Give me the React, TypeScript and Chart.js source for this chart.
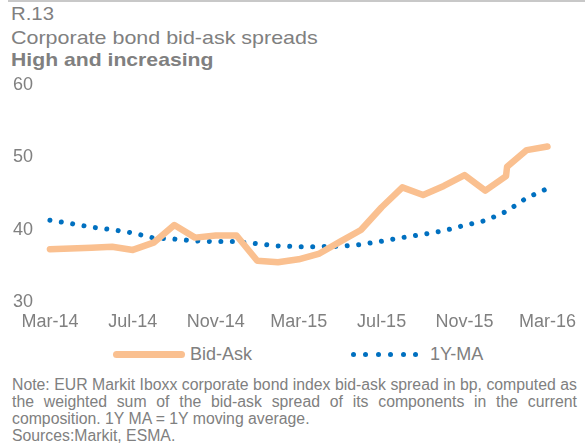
import React, { useEffect, useRef } from "react";
import { Chart, registerables } from "chart.js";

Chart.register(...registerables);

// Months since Mar-14
const tickMonths = [0, 4, 8, 12, 16, 20, 24];
const tickLabels = ["Mar-14", "Jul-14", "Nov-14", "Mar-15", "Jul-15", "Nov-15", "Mar-16"];

const bidAskMonths = [0, 1, 2, 3, 4, 5, 6, 7, 8, 9, 10, 11, 12, 13, 14, 15, 16, 17, 18, 19, 20, 21, 22, 22.05, 23, 24];
const bidAskValues = [37.3, 37.4, 37.5, 37.65, 37.2, 38.2, 40.65, 38.9, 39.2, 39.2, 35.7, 35.5, 35.9, 36.7, 38.35, 39.95, 43.1, 45.85, 44.8, 46.05, 47.55, 45.4, 47.4, 48.7, 51.0, 51.5];

const maMonths = [0, 1, 2, 3, 4, 5, 6, 7, 8, 9, 10, 11, 12, 13, 14, 15, 16, 17, 18, 19, 20, 21, 22, 23, 24];
const maValues = [41.3, 40.85, 40.35, 40.0, 39.55, 38.85, 38.7, 38.45, 38.35, 38.35, 38.05, 37.75, 37.65, 37.65, 37.7, 37.95, 38.4, 38.9, 39.35, 39.85, 40.6, 41.25, 42.5, 44.4, 45.7];

const yTicks = [30, 40, 50, 60];

const GRAY = "#808080";
const ORANGE = "#FAC090";
const BLUE = "#0070C0";
const FONT = "'Liberation Sans', Arial, sans-serif";

export default function App() {
  const ref = useRef<HTMLCanvasElement>(null);

  useEffect(() => {
    if (!ref.current) return;
    const chart = new Chart(ref.current, {
      type: "line",
      data: {
        datasets: [
          {
            label: "Bid-Ask",
            data: bidAskMonths.map((m, i) => ({ x: m, y: bidAskValues[i] })),
            borderColor: ORANGE,
            backgroundColor: ORANGE,
            borderWidth: 6.5,
            pointRadius: 0,
            tension: 0,
            borderJoinStyle: "round",
            borderCapStyle: "round",
          },
          {
            label: "1Y-MA",
            data: maMonths.map((m, i) => ({ x: m, y: maValues[i] })),
            borderColor: BLUE,
            backgroundColor: BLUE,
            borderWidth: 5,
            borderDash: [0.01, 11.5],
            borderCapStyle: "round",
            pointRadius: 0,
            tension: 0,
          },
        ],
      },
      options: {
        animation: false,
        responsive: false,
        maintainAspectRatio: false,
        layout: { padding: { top: 25, right: 0, left: 0, bottom: 0 } },
        plugins: {
          legend: { display: false },
          tooltip: { enabled: false },
        },
        scales: {
          x: {
            type: "linear",
            min: -0.478,
            max: 25.578,
            grid: { display: false, drawTicks: false },
            border: { display: false },
            afterBuildTicks: (scale: any) => {
              scale.ticks = tickMonths.map((v) => ({ value: v }));
            },
            afterFit: (scale: any) => {
              scale.height = 38;
            },
            ticks: {
              autoSkip: false,
              maxRotation: 0,
              padding: 9,
              color: GRAY,
              font: { family: FONT, size: 18 },
              callback: (v: any) => {
                const i = tickMonths.indexOf(Number(v));
                return i >= 0 ? tickLabels[i] : "";
              },
            },
          },
          y: {
            min: 30,
            max: 60,
            grid: { display: false, drawTicks: false },
            border: { display: false },
            afterBuildTicks: (scale: any) => {
              scale.ticks = yTicks.map((v) => ({ value: v }));
            },
            afterFit: (scale: any) => {
              scale.width = 40;
            },
            ticks: {
              padding: 7,
              color: GRAY,
              font: { family: FONT, size: 18 },
            },
          },
        },
      },
    });
    return () => chart.destroy();
  }, []);

  const text: React.CSSProperties = { position: "absolute", fontFamily: FONT, color: GRAY, whiteSpace: "nowrap" };
  const noteLine: React.CSSProperties = {
    ...text,
    left: 12,
    width: 565,
    fontSize: 15.8,
    lineHeight: "17px",
  };

  return (
    <div style={{ position: "absolute", left: 0, top: 0, width: 585, height: 443, background: "#fff", overflow: "hidden" }}>
      <div style={{ position: "absolute", left: 8, top: 0, width: 577, height: 1.5, background: "#c8c8c8" }} />
      <div style={{ ...text, left: 11, top: 3, fontSize: 19, lineHeight: "22px", transform: "scaleX(1.07)", transformOrigin: "left" }}>R.13</div>
      <div style={{ ...text, left: 11, top: 27, fontSize: 19, lineHeight: "22px", transform: "scaleX(1.13)", transformOrigin: "left" }}>Corporate bond bid-ask spreads</div>
      <div style={{ ...text, left: 11, top: 49, fontSize: 19, lineHeight: "22px", fontWeight: "bold", transform: "scaleX(1.115)", transformOrigin: "left" }}>High and increasing</div>
      <canvas ref={ref} width={585} height={280} style={{ position: "absolute", left: 0, top: 60, width: 585, height: 280 }} />
      {/* legend */}
      <div style={{ position: "absolute", left: 113, top: 351, width: 72, height: 6.5, borderRadius: 3.5, background: ORANGE }} />
      <div style={{ ...text, left: 190, top: 343, fontSize: 18, lineHeight: "22px" }}>Bid-Ask</div>
      {[0, 1, 2, 3, 4, 5].map((i) => (
        <div key={i} style={{ position: "absolute", left: 351 + i * 12.4, top: 352, width: 5, height: 5, borderRadius: "50%", background: BLUE }} />
      ))}
      <div style={{ ...text, left: 430, top: 343, fontSize: 18, lineHeight: "22px" }}>1Y-MA</div>
      {/* notes */}
      <div style={{ ...noteLine, top: 376, textAlign: "justify", textAlignLast: "justify", whiteSpace: "normal" }}>Note: EUR Markit Iboxx corporate bond index bid-ask spread in bp, computed as</div>
      <div style={{ ...noteLine, top: 393, textAlign: "justify", textAlignLast: "justify", whiteSpace: "normal" }}>the weighted sum of the bid-ask spread of its components in the current</div>
      <div style={{ ...noteLine, top: 410 }}>composition. 1Y MA = 1Y moving average.</div>
      <div style={{ ...noteLine, top: 427 }}>Sources:Markit, ESMA.</div>
    </div>
  );
}
